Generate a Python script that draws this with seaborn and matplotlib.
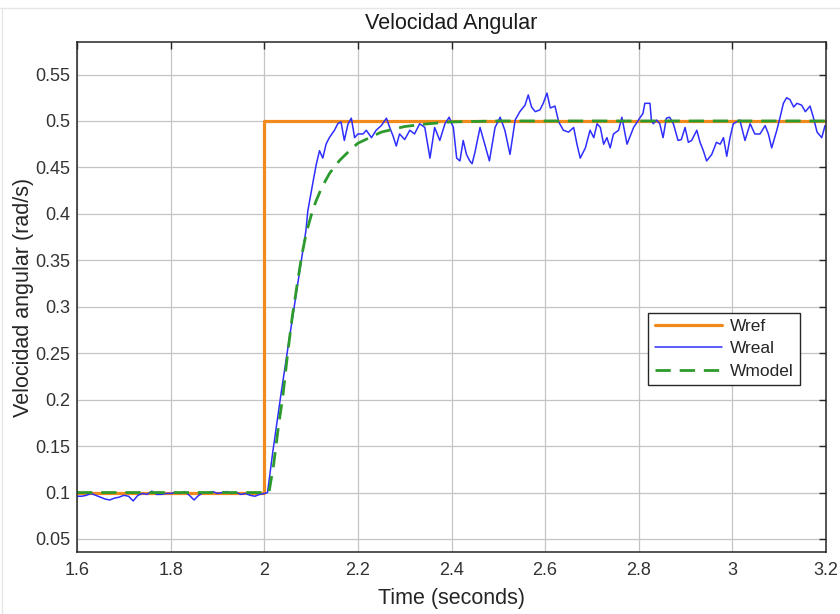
import matplotlib
matplotlib.use("Agg")
import matplotlib.pyplot as plt
from matplotlib.lines import Line2D
import seaborn as sns

# ---------------- data ----------------
wref_t = [1.6, 2.0, 2.0, 3.2]
wref_v = [0.1, 0.1, 0.5, 0.5]

wreal_t = [
    1.60, 1.61, 1.62, 1.63, 1.64, 1.65, 1.66, 1.67, 1.68, 1.69,
    1.70, 1.71, 1.72, 1.73, 1.74, 1.75, 1.76, 1.77, 1.78, 1.79,
    1.80, 1.81, 1.82, 1.83, 1.84, 1.85, 1.86, 1.87, 1.88, 1.89,
    1.90, 1.91, 1.92, 1.93, 1.94, 1.95, 1.96, 1.97, 1.98, 1.99,
    2.00, 2.007, 2.018, 2.036, 2.050, 2.064, 2.079, 2.089, 2.093, 2.104,
    2.111, 2.118, 2.125, 2.132, 2.139, 2.150, 2.157, 2.164, 2.171, 2.179,
    2.186, 2.193, 2.200, 2.211, 2.218, 2.229, 2.239, 2.250, 2.261, 2.268,
    2.275, 2.282, 2.289, 2.300, 2.311, 2.321, 2.332, 2.343, 2.354, 2.364,
    2.375, 2.386, 2.395, 2.404, 2.411, 2.418, 2.425, 2.432, 2.439, 2.444,
    2.450, 2.461, 2.471, 2.481, 2.493, 2.504, 2.514, 2.525, 2.536, 2.546,
    2.557, 2.564, 2.571, 2.579, 2.589, 2.596, 2.604, 2.611, 2.621, 2.629,
    2.639, 2.650, 2.661, 2.668, 2.675, 2.686, 2.696, 2.704, 2.711, 2.718,
    2.725, 2.732, 2.739, 2.746, 2.757, 2.764, 2.775, 2.789, 2.802, 2.809,
    2.813, 2.824, 2.827, 2.831, 2.838, 2.845, 2.852, 2.859, 2.866, 2.874,
    2.884, 2.891, 2.899, 2.906, 2.913, 2.924, 2.931, 2.938, 2.945, 2.956,
    2.966, 2.974, 2.981, 2.988, 2.995, 3.002, 3.009, 3.016, 3.027, 3.038,
    3.048, 3.059, 3.070, 3.077, 3.084, 3.095, 3.102, 3.109, 3.116, 3.123,
    3.131, 3.138, 3.148, 3.156, 3.166, 3.173, 3.181, 3.191, 3.198,
]
wreal_v = [
    0.096, 0.096, 0.097, 0.099, 0.097, 0.095, 0.093, 0.092, 0.094, 0.095,
    0.097, 0.096, 0.091, 0.097, 0.099, 0.098, 0.1015, 0.098, 0.098, 0.099,
    0.099, 0.100, 0.099, 0.101, 0.097, 0.092, 0.097, 0.100, 0.100, 0.101,
    0.099, 0.100, 0.101, 0.099, 0.100, 0.098, 0.099, 0.097, 0.096, 0.098,
    0.099, 0.100, 0.143, 0.207, 0.254, 0.300, 0.350, 0.382, 0.403, 0.434,
    0.453, 0.468, 0.460, 0.475, 0.482, 0.490, 0.497, 0.499, 0.479, 0.497,
    0.503, 0.482, 0.486, 0.486, 0.490, 0.482, 0.490, 0.495, 0.503, 0.493,
    0.484, 0.473, 0.486, 0.480, 0.490, 0.486, 0.497, 0.493, 0.460, 0.493,
    0.479, 0.497, 0.504, 0.493, 0.460, 0.457, 0.479, 0.464, 0.457, 0.454,
    0.466, 0.493, 0.475, 0.457, 0.493, 0.504, 0.490, 0.464, 0.501, 0.510,
    0.517, 0.528, 0.515, 0.510, 0.512, 0.519, 0.530, 0.514, 0.516, 0.499,
    0.490, 0.488, 0.493, 0.475, 0.460, 0.471, 0.490, 0.482, 0.497, 0.493,
    0.475, 0.482, 0.471, 0.486, 0.490, 0.504, 0.475, 0.493, 0.503, 0.508,
    0.519, 0.519, 0.501, 0.497, 0.501, 0.497, 0.482, 0.503, 0.504, 0.497,
    0.479, 0.480, 0.493, 0.477, 0.479, 0.490, 0.477, 0.468, 0.457, 0.464,
    0.477, 0.475, 0.482, 0.462, 0.482, 0.497, 0.499, 0.501, 0.479, 0.497,
    0.486, 0.486, 0.495, 0.486, 0.471, 0.490, 0.504, 0.519, 0.525, 0.523,
    0.515, 0.519, 0.517, 0.510, 0.516, 0.504, 0.488, 0.482, 0.495,
]

wmodel_t = [1.6, 2.00, 2.01, 2.02, 2.03, 2.04, 2.05, 2.06, 2.07, 2.08,
            2.09, 2.10, 2.11, 2.12, 2.13, 2.14, 2.16, 2.18, 2.20, 2.25,
            2.30, 2.35, 2.40, 2.50, 3.20]
wmodel_v = [0.1, 0.1, 0.1, 0.13, 0.17, 0.205, 0.25, 0.29, 0.323, 0.355,
            0.38, 0.398, 0.413, 0.425, 0.435, 0.444, 0.457, 0.467, 0.476, 0.488,
            0.494, 0.497, 0.499, 0.5, 0.5]

xticks = [1.6, 1.8, 2.0, 2.2, 2.4, 2.6, 2.8, 3.0, 3.2]
xtick_labels = ["1.6", "1.8", "2", "2.2", "2.4", "2.6", "2.8", "3", "3.2"]
yticks = [0.05, 0.1, 0.15, 0.2, 0.25, 0.3, 0.35, 0.4, 0.45, 0.5, 0.55]
ytick_labels = ["0.05", "0.1", "0.15", "0.2", "0.25", "0.3", "0.35", "0.4", "0.45", "0.5", "0.55"]

# ---------------- style ----------------
sns.set_style("white")
plt.rcParams["font.family"] = ["Liberation Sans", "DejaVu Sans"]
TXT = "#262626"

fig = plt.figure(figsize=(8.4, 6.14), dpi=100)
fig.patch.set_facecolor("white")
ax = fig.add_axes([0.0917, 0.101, 0.8916, 0.8306])

sns.lineplot(x=wref_t, y=wref_v, ax=ax, color="#F08A1C", lw=2.3,
             label="Wref", estimator=None, sort=False)
sns.lineplot(x=wreal_t, y=wreal_v, ax=ax, color="#2E2EFF", lw=1.1,
             label="Wreal", estimator=None, sort=False)
sns.lineplot(x=wmodel_t, y=wmodel_v, ax=ax, color="#2C9A2C", lw=2.0,
             linestyle=(0, (5.5, 3.2)), label="Wmodel", estimator=None, sort=False)

ax.set_xlim(1.6, 3.2)
ax.set_ylim(0.036, 0.585)
ax.set_xticks(xticks)
ax.set_xticklabels(xtick_labels)
ax.set_yticks(yticks)
ax.set_yticklabels(ytick_labels)

ax.grid(True, color="#c4c4c4", lw=0.9)
ax.set_axisbelow(True)
for s in ax.spines.values():
    s.set_visible(True)
    s.set_color(TXT)
    s.set_linewidth(1.1)
ax.tick_params(direction="in", length=5, width=1.0, top=True, right=True,
               labelsize=13, colors=TXT, labelcolor="#333333")
ax.tick_params(axis="x", pad=7)
ax.tick_params(axis="y", pad=5)

ax.set_title("Velocidad Angular", fontsize=15.5, color="#1a1a1a", pad=9)
ax.set_xlabel("Time (seconds)", fontsize=15.5, color=TXT, labelpad=7)
ax.set_ylabel("Velocidad angular (rad/s)", fontsize=15.5, color=TXT, labelpad=1)

leg = ax.legend(loc="upper left", bbox_to_anchor=(0.763, 0.469), borderaxespad=0,
                frameon=True, fancybox=False, edgecolor="#262626", framealpha=1,
                fontsize=12.5, handlelength=3.9, handletextpad=0.45,
                labelspacing=0.42, borderpad=0.35)
leg.get_frame().set_linewidth(1.0)
for t in leg.get_texts():
    t.set_color(TXT)

# faint panel edges like the source window
fig.add_artist(Line2D([0, 1], [1 - 8 / 614, 1 - 8 / 614], color="#e6e6e6", lw=1))
fig.add_artist(Line2D([2 / 840, 2 / 840], [0, 1 - 8 / 614], color="#e6e6e6", lw=1))

fig.savefig("out.png", dpi=100, facecolor="white")
